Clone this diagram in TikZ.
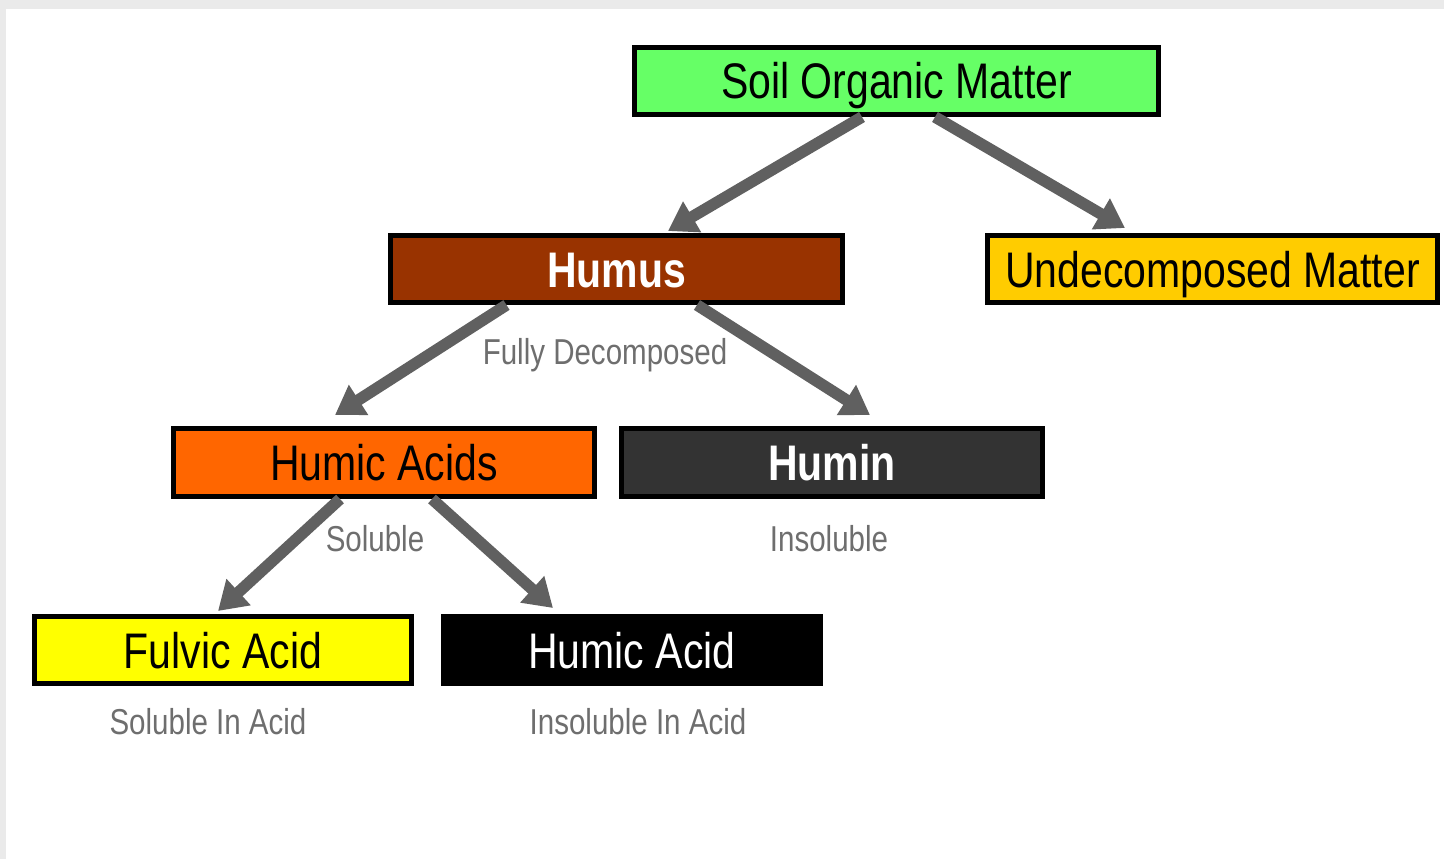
\documentclass[tikz,border=0pt]{standalone}
\usepackage{fontspec}
\usepackage{graphicx}
\setmainfont{Liberation Sans}
\usetikzlibrary{arrows.meta}
\definecolor{somgreen}{HTML}{66FF66}
\definecolor{humusbrown}{HTML}{993300}
\definecolor{acidorange}{HTML}{FF6600}
\definecolor{humingray}{HTML}{333333}
\definecolor{fulvicyellow}{HTML}{FFFF00}
\definecolor{undecgold}{HTML}{FFCC00}
\definecolor{arrowgray}{HTML}{606060}
\definecolor{labelgray}{HTML}{6E6E6E}
\definecolor{framegray}{HTML}{EAEAEA}
\tikzset{
  boxnode/.style={draw=black, line width=5pt, minimum height=67pt, inner sep=0pt,
    text height=36pt, text depth=0pt,
    font=\fontsize{50}{50}\selectfont},
  notelabel/.style={text=labelgray, inner sep=0pt, text height=26pt, text depth=0pt,
    font=\fontsize{36}{36}\selectfont},
  flow/.style={draw=arrowgray, line width=11.5pt,
    -{Triangle[width=34pt,length=28pt]}, arrowgray}
}
\newcommand{\nar}[1]{\scalebox{0.82}[1]{#1}}
\begin{document}
\begin{tikzpicture}[x=1pt,y=-1pt]
\useasboundingbox (0,0) rectangle (1444,859);
\fill[framegray] (0,0) rectangle (1444,859);
\fill[white] (6,9) rectangle (1444,859);

\node[boxnode, fill=somgreen, minimum width=524pt] (soil) at (896.5,81) {\nar{Soil Organic Matter}};
\node[boxnode, fill=humusbrown, text=white, minimum width=452pt] (humus) at (616.5,269) {\nar{\bfseries Humus}};
\node[boxnode, fill=undecgold, minimum width=450pt] (undec) at (1212.5,269) {\nar{Undecomposed Matter}};
\node[boxnode, fill=acidorange, minimum width=421pt, minimum height=68pt] (hacids) at (384,462.5) {\nar{Humic Acids}};
\node[boxnode, fill=humingray, text=white, minimum width=421pt, minimum height=68pt] (humin) at (832,462.5) {\nar{\bfseries Humin}};
\node[boxnode, fill=fulvicyellow, minimum width=377pt] (fulvic) at (223,650) {\nar{Fulvic Acid}};
\node[boxnode, fill=black, text=white, minimum width=377pt] (hacid) at (632,650) {\nar{Humic Acid}};

\node[notelabel] (lfully) at (605,351) {\nar{Fully Decomposed}};
\node[notelabel] (lsol) at (375,538) {\nar{Soluble}};
\node[notelabel] (linsol) at (829,538) {\nar{Insoluble}};
\node[notelabel] (lsolacid) at (208,721) {\nar{Soluble In Acid}};
\node[notelabel] (linsolacid) at (638,721) {\nar{Insoluble In Acid}};

\draw[flow] ([xshift=-34.5pt]soil.south) -- ([xshift=51.5pt,yshift=2pt]humus.north);
\draw[flow] ([xshift=38.5pt]soil.south) -- ([xshift=-87.5pt,yshift=5pt]undec.north);
\draw[flow] ([xshift=-110pt]humus.south) -- ([xshift=-49pt,yshift=11pt]hacids.north);
\draw[flow] ([xshift=80.5pt]humus.south) -- ([xshift=38pt,yshift=11pt]humin.north);
\draw[flow] ([xshift=-44pt]hacids.south) -- ([xshift=-5pt,yshift=3pt]fulvic.north);
\draw[flow] ([xshift=48pt]hacids.south) -- ([xshift=-79pt,yshift=6pt]hacid.north);
\end{tikzpicture}
\end{document}
